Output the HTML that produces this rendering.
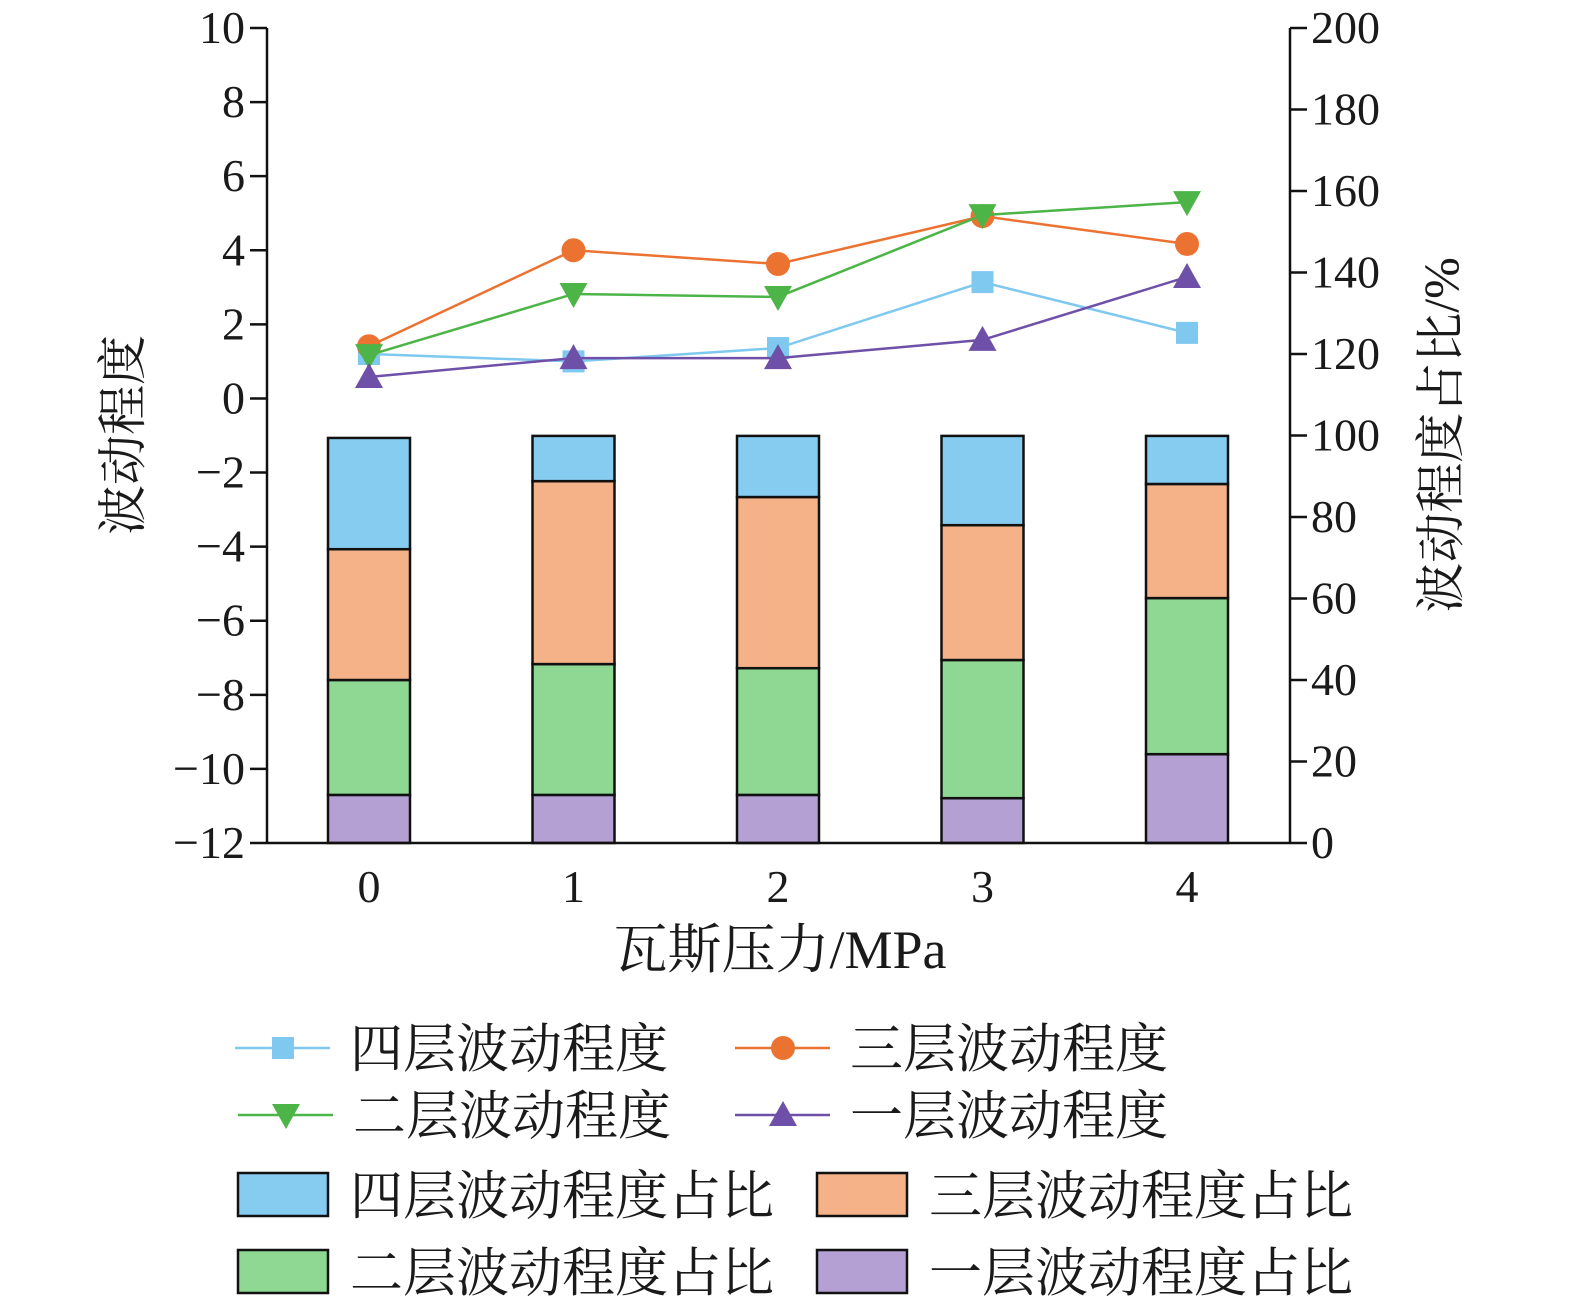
<!DOCTYPE html>
<html><head><meta charset="utf-8"><style>
body{margin:0;background:#fff}
svg text{font-family:"Liberation Serif","Noto Serif CJK SC",serif;fill:#1a1a1a}
.cjk{font-family:"Liberation Serif","Noto Serif CJK SC","Noto Sans CJK SC",serif}
</style></head><body>
<svg id="c" width="1575" height="1302" xmlns="http://www.w3.org/2000/svg"></svg>
<script>
const categories=["0","1","2","3","4"];
const leftTicks=[10,8,6,4,2,0,-2,-4,-6,-8,-10,-12];
const rightTicks=[0,20,40,60,80,100,120,140,160,180,200];
const pct1=[11.8,11.8,11.8,11.0,21.8];
const pct2=[28.2,32.1,31.1,33.9,38.3];
const pct3=[32.1,44.9,42.0,33.1,28.0];
const pct4=[27.3,11.1,15.0,21.9,11.8];
const wave4=[1.2,1.0,1.36,3.14,1.77];
const wave3=[1.41,4.0,3.63,4.92,4.17];
const wave2=[1.17,2.82,2.74,4.95,5.3];
const wave1=[0.58,1.09,1.09,1.58,3.28];

const NS="http://www.w3.org/2000/svg",svg=document.getElementById('c');
function mk(t,a,p){const e=document.createElementNS(NS,t);for(const k in a)e.setAttribute(k,a[k]);(p||svg).appendChild(e);return e;}
const X0=267,X1=1290,Y0=28,Y1=843;
const xs=i=>369+i*204.5;
const yl=v=>Y1-(v+12)*(Y1-Y0)/22;
const yr=v=>Y1-v*(Y1-Y0)/200;

const bc=["#b4a0d2","#8ed893","#f5b188","#86ccf0"];
const series=[pct1,pct2,pct3,pct4];
categories.forEach((c,i)=>{let acc=0;series.forEach((s,k)=>{
 const r=mk('rect',{x:xs(i)-41,y:yr(acc+s[i]),width:82,height:yr(acc)-yr(acc+s[i]),fill:bc[k],stroke:"#111","stroke-width":2.5});
 
 
 acc+=s[i];});});

const ax=mk('g',{});
mk('line',{x1:X0,y1:Y0,x2:X0,y2:Y1,stroke:"#111","stroke-width":2.5},ax);
mk('line',{x1:X1,y1:Y0,x2:X1,y2:Y1,stroke:"#111","stroke-width":2.5},ax);
mk('line',{x1:X0,y1:Y1,x2:X1,y2:Y1,stroke:"#111","stroke-width":2.5},ax);
leftTicks.forEach(v=>{mk('line',{x1:X0-17,x2:X0,y1:yl(v),y2:yl(v),stroke:"#111","stroke-width":2.5},ax);
 const t=mk('text',{x:X0-22,y:yl(v)+15,"text-anchor":"end","font-size":46},ax);t.textContent=(v<0?"\u2212"+(-v):v);
 });
rightTicks.forEach(v=>{mk('line',{x1:X1,x2:X1+17,y1:yr(v),y2:yr(v),stroke:"#111","stroke-width":2.5},ax);
 const t=mk('text',{x:X1+21,y:yr(v)+15,"font-size":46},ax);t.textContent=v;
 });
categories.forEach((c,i)=>{const t=mk('text',{x:xs(i),y:902,"text-anchor":"middle","font-size":46},ax);t.textContent=c;
 });
let t=mk('text',{x:780,y:968,"text-anchor":"middle","font-size":54,class:"cjk"});t.textContent="瓦斯压力/MPa";

t=mk('text',{x:0,y:0,"text-anchor":"middle","font-size":50,class:"cjk",transform:"translate(140,435) rotate(-90)"});t.textContent="波动程度";

t=mk('text',{x:0,y:0,"text-anchor":"middle","font-size":50,class:"cjk",transform:"translate(1458,435) rotate(-90)"});t.textContent="波动程度占比/%";


function marker(type,x,y,col,g){
 if(type==='sq')return mk('rect',{x:x-11,y:y-11,width:22,height:22,fill:col},g);
 if(type==='ci')return mk('circle',{cx:x,cy:y,r:12,fill:col},g);
 if(type==='dn')return mk('polygon',{points:`${x-14},${y-11} ${x+14},${y-11} ${x},${y+14}`,fill:col},g);
 return mk('polygon',{points:`${x-14},${y+11} ${x+14},${y+11} ${x},${y-14}`,fill:col},g);
}
const lines=[[wave4,"#7fc8ef","sq","四层"],[wave3,"#ec7232","ci","三层"],[wave2,"#4db548","dn","二层"],[wave1,"#6e50a8","up","一层"]];
lines.forEach(([d,col,m,n])=>{const g=mk('g',{});
 mk('polyline',{points:d.map((v,i)=>xs(i)+','+yl(v)).join(' '),fill:'none',stroke:col,"stroke-width":2.5},g);
 d.forEach((v,i)=>marker(m,xs(i),yl(v),col,g));});

const lg=mk('g',{});
const lpos=[[235,1048],[735,1048],[238,1115],[735,1115]];
lines.forEach(([d,col,m,n],k)=>{const [x,y]=lpos[k];
 mk('line',{x1:x,x2:x+95,y1:y,y2:y,stroke:col,"stroke-width":2.5},lg);marker(m,x+48,y,col,lg);
 const tt=mk('text',{x:x+115,y:y+19,"font-size":53,class:"cjk"},lg);tt.textContent=n+"波动程度";
 });
const bpos=[[238,1173,"四层",3],[817,1173,"三层",2],[238,1250,"二层",1],[817,1250,"一层",0]];
bpos.forEach(([x,y,n,k])=>{mk('rect',{x:x,y:y,width:90,height:43,fill:bc[k],stroke:"#111","stroke-width":2.5},lg);
 const tt=mk('text',{x:x+112,y:y+41,"font-size":53,class:"cjk"},lg);tt.textContent=n+"波动程度占比";
 });
</script>
</body></html>
